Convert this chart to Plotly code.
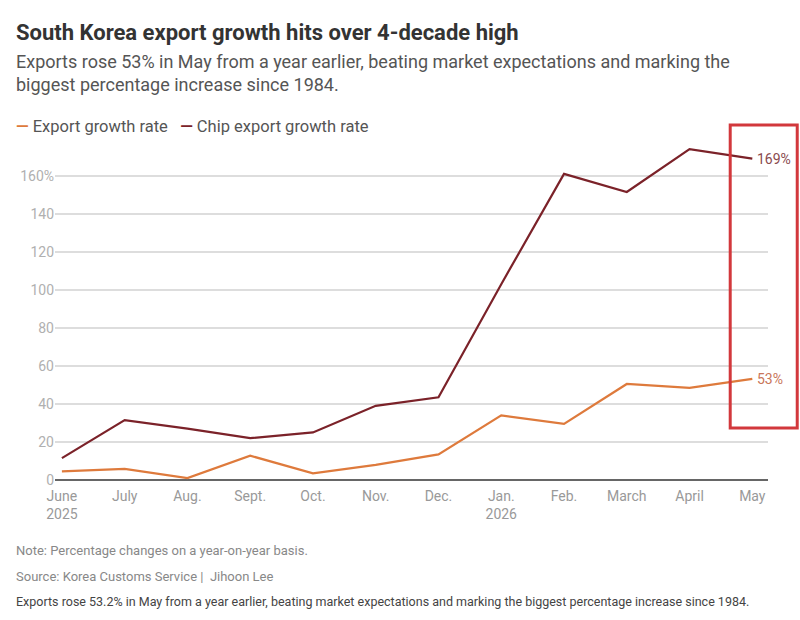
import plotly.graph_objects as go

months = ["June<br>2025", "July", "Aug.", "Sept.", "Oct.", "Nov.", "Dec.",
          "Jan.<br>2026", "Feb.", "March", "April", "May"]
export_growth = [4.5, 5.8, 1.0, 12.8, 3.5, 8.0, 13.5, 34.0, 29.5, 50.5, 48.5, 53.2]
chip_growth = [11.5, 31.5, 27.0, 22.0, 25.0, 39.0, 43.5, 103.0, 161.0, 151.5, 174.0, 169.0]
y_ticks = [0, 20, 40, 60, 80, 100, 120, 140, 160]
y_tick_text = ["0", "20", "40", "60", "80", "100", "120", "140", "160%"]

series = [
    ("Export growth rate", export_growth, "#de7a3c", "#c9765a"),
    ("Chip export growth rate", chip_growth, "#7b2229", "#8a4a4e"),
]

FONT = "Roboto"
x = list(range(len(months)))

fig = go.Figure()
for name, vals, color, label_color in series:
    fig.add_trace(
        go.Scatter(
            x=x,
            y=vals,
            mode="lines",
            line=dict(color=color, width=2.2),
            name=name,
            showlegend=False,
        )
    )
    # end label
    fig.add_annotation(
        x=x[-1], y=vals[-1], text=f"{round(vals[-1])}%",
        showarrow=False, xanchor="left", xshift=3,
        font=dict(family=FONT, size=14, color=label_color),
    )

# legend drawn as text with coloured dashes
legend_text = "   ".join(
    f"<span style='color:{c}'><b>—</b></span> {n}" for n, _, c, _ in series
)
fig.add_annotation(
    xref="paper", yref="paper", x=-0.057, y=1.023, xanchor="left", yanchor="middle",
    text=legend_text, showarrow=False, font=dict(family=FONT, size=16.5, color="#555555"),
)

# title block
fig.add_annotation(
    xref="paper", yref="paper", x=-0.057, y=1.292, xanchor="left", yanchor="middle",
    text="<b>South Korea export growth hits over 4-decade high</b>", showarrow=False,
    font=dict(family=FONT, size=22, color="#333333"),
)
fig.add_annotation(
    xref="paper", yref="paper", x=-0.057, y=1.176, xanchor="left", yanchor="middle",
    text="Exports rose 53% in May from a year earlier, beating market expectations and marking the<br>"
         "biggest percentage increase since 1984.",
    showarrow=False, align="left",
    font=dict(family=FONT, size=18, color="#555555"),
)

# footer
notes = [
    ("Note: Percentage changes on a year-on-year basis.", -0.205, "#888888", 13),
    ("Source: Korea Customs Service |  Jihoon Lee", -0.28, "#888888", 13),
    ("Exports rose 53.2% in May from a year earlier, beating market expectations and marking the biggest percentage increase since 1984.",
     -0.35, "#444444", 12.5),
]
for txt, yy, col, sz in notes:
    fig.add_annotation(
        xref="paper", yref="paper", x=-0.057, y=yy, xanchor="left", yanchor="middle",
        text=txt, showarrow=False, font=dict(family=FONT, size=sz, color=col),
    )

# red highlight box around May
fig.add_shape(
    type="rect", xref="paper", yref="paper",
    x0=0.947, x1=1.041, y0=0.150, y1=1.026,
    line=dict(color="#d2383c", width=3), fillcolor="rgba(0,0,0,0)",
)

fig.update_xaxes(
    tickvals=x, ticktext=months, range=[-0.11, 11.25],
    showgrid=False, zeroline=False, showline=False, ticks="",
    ticklabelstandoff=6,
    tickfont=dict(family=FONT, size=14, color="#999999"),
)
fig.update_yaxes(
    tickvals=y_ticks, ticktext=y_tick_text, range=[0, 182],
    showgrid=True, gridcolor="#dddddd", gridwidth=1.5,
    zeroline=True, zerolinecolor="#666666", zerolinewidth=2,
    showline=False, ticks="",
    tickfont=dict(family=FONT, size=14, color="#b0b0b0"),
)

fig.update_layout(
    width=800,
    height=620,
    margin=dict(l=55, r=32, t=134, b=140),
    plot_bgcolor="white",
    paper_bgcolor="white",
    font=dict(family=FONT),
)

# drop the default page margin so the figure sits at the window's corner
fig.write_html(
    "out.html",
    config={"displayModeBar": False},
    post_script="document.body.style.margin='0px';",
)
